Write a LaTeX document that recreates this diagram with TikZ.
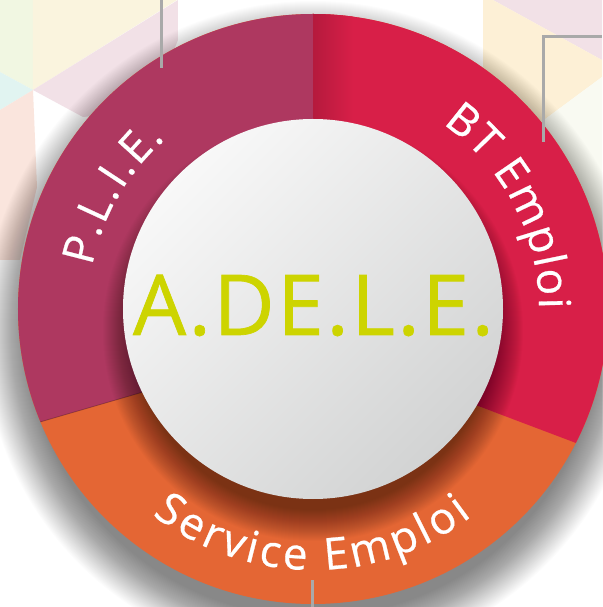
\documentclass[tikz,border=0pt]{standalone}
\usepackage{fontspec}
\newfontfamily\ringfont{Open Sans}
\newfontfamily\ringfontb{Open Sans}[FakeBold=0.6]
\newfontfamily\titlefont{Open Sans}[FakeBold=0.8,LetterSpace=3]
\usetikzlibrary{decorations.text,calc}
\definecolor{plie}{HTML}{AE3860}
\definecolor{bt}{HTML}{D81F48}
\definecolor{btdark}{HTML}{B51A3D}
\definecolor{serv}{HTML}{E46634}
\definecolor{adele}{HTML}{CDD400}
\definecolor{linegray}{HTML}{A9A9A9}
\definecolor{bggreen}{HTML}{F1F7E2}
\definecolor{bgcream}{HTML}{FAF4DE}
\definecolor{bgcyan}{HTML}{E1F4F1}
\definecolor{bgpink}{HTML}{F2E1E7}
\definecolor{bgpeach}{HTML}{FAE5DD}
\definecolor{bgcreamb}{HTML}{FDF0D6}
\definecolor{bgwhitegreen}{HTML}{F9FAF2}
\definecolor{innerlight}{HTML}{F8F8F8}
\definecolor{innerdark}{HTML}{D2D3D3}
\newcommand\rtf{\ringfontb\fontsize{44}{50}\selectfont}
\newcommand\adelefont{\titlefont\fontsize{84}{90}\selectfont}
\tikzset{
  connector/.style={draw=linegray, line width=3pt},
  ringtext/.style={decorate, decoration={text along path, text align=fit to path, text color=white, text={#1}}}
}
\begin{document}
\begin{tikzpicture}[x=1pt,y=1pt]
\useasboundingbox (-313,-298) rectangle (289,309);
\fill[white] (-313,-298) rectangle (289,309);
% background pastel facets
\fill[bggreen] (-313,309) -- (-280,309) -- (-280,219) -- (-313,237) -- cycle;
\fill[bgcyan] (-313,237) -- (-280,219) -- (-313,199) -- cycle;
\fill[bgcream] (-280,309) -- (-136,309) -- (-280,219) -- cycle;
\fill[bgpink] (-280,219) -- (-135,309) -- (-135,269) -- (-163,199) -- (-230,192) -- cycle;
\fill[bgpeach] (-313,199) -- (-280,219) -- (-276,122) -- (-293,49) -- (-313,49) -- cycle;
\fill[bgpink] (180,309) -- (289,309) -- (289,249) -- cycle;
\fill[bgcreamb] (170,309) -- (180,309) -- (289,249) -- (289,232) -- (170,144) -- cycle;
\fill[bgwhitegreen] (170,144) -- (289,232) -- (289,59) -- cycle;
% outer drop shadow
\foreach \k in {1,...,45} \fill[black,opacity=0.011] (0,-22) circle ({285+\k});
% ring segments
\coordinate (O1) at (202.5:295); \coordinate (I1) at (206:190);
\coordinate (O2) at (-27:295);   \coordinate (I2) at (-30.5:190);
\coordinate (L1) at ($(O1)!2.7!(I1)$);
\coordinate (L2) at ($(O2)!2.6!(I2)$);
\fill[serv] (0,0) circle (295);
\fill[plie] (0,0) -- (0,295) arc[start angle=90, end angle=202.5, radius=295] -- (L1) -- cycle;
\fill[bt] (0,0) -- (0,295) arc[start angle=90, end angle=-27, radius=295] -- (L2) -- cycle;
\begin{scope}
  \clip (0,0) -- (0,295) arc[start angle=90, end angle=-27, radius=295] -- (L2) -- cycle;
  \shade[left color=btdark, right color=bt] (0,0) rectangle (40,300);
\end{scope}
\draw[black, opacity=0.25, line width=0.8pt] (O1) -- (I1);
% inner circle shadow
\foreach \k in {1,...,32} \fill[black,opacity=0.014] (0,-22) circle ({178+\k});
% inner circle
\shade[top color=innerlight, bottom color=innerdark, shading angle=45] (0,0) circle (190);
\node[text=adele, font=\adelefont, anchor=base, inner sep=0pt] (title) at (0.5,-26) {A.DE.L.E.};
% ring labels
\path[ringtext={|\rtf|P.L.I.E.}] (169:225) arc[start angle=169, end angle=131, radius=225];
\path[ringtext={|\rtf|BT Emploi}] (55:226) arc[start angle=55, end angle=0, radius=226];
\path[ringtext={|\rtf|Service Emploi}] (232:261) arc[start angle=232, end angle=307.5, radius=261];
% connector stubs
\coordinate (c1a) at (-151,309); \coordinate (c1b) at (-151,241);
\coordinate (c2a) at (230,167);  \coordinate (c2b) at (289,272);
\coordinate (c3a) at (-1,-271);  \coordinate (c3b) at (-1,-298);
\draw[connector] (c1a) -- (c1b);
\draw[connector] (c2a) |- (c2b);
\draw[connector] (c3a) -- (c3b);
\end{tikzpicture}
\end{document}
